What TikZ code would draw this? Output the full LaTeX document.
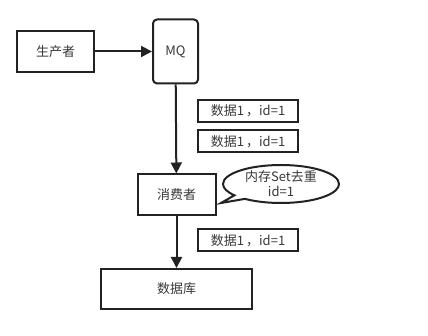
\documentclass[tikz,border=0pt]{standalone}
\usepackage{fontspec}
\setmainfont{Noto Sans CJK SC}
\usetikzlibrary{arrows.meta,shapes.callouts}
\definecolor{ink}{HTML}{222222}
\begin{document}
\begin{tikzpicture}[x=1pt,y=-1pt,
  box/.style={draw=ink,line width=2pt,inner sep=0pt,font=\fontsize{13}{15}\selectfont,text=ink!90},
  lbl/.style={draw=ink,line width=2pt,inner sep=0pt,minimum width=100pt,minimum height=22pt,font=\fontsize{13}{15}\selectfont,text=ink!90},
  arr/.style={draw=ink,line width=2pt,-{Triangle[length=11pt,width=11pt]}}]
\useasboundingbox (0,0) rectangle (428,336);
\node[box,minimum width=77pt,minimum height=41pt] (prod) at (55.5,51.5) {生产者};
\node[box,rounded corners=4pt,minimum width=45pt,minimum height=64pt] (mq) at (175.5,51.5) {MQ};
\node[box,minimum width=78pt,minimum height=41pt] (cons) at (176.5,195) {消费者};
\node[box,minimum width=151pt,minimum height=40pt] (db) at (176.5,289) {数据库};
\node[lbl] (l1) at (248,111) {数据1\,，id=1};
\node[lbl] (l2) at (248,141.5) {数据1\,，id=1};
\node[lbl] (l3) at (248,240.5) {数据1\,，id=1};
\node[ellipse callout,draw=ink,line width=2pt,minimum width=116pt,minimum height=38pt,inner sep=0pt,
  callout absolute pointer={(221,203)},align=center,font=\fontsize{13}{15}\selectfont,text=ink!90] (mem) at (281,184) {内存Set去重\\id=1};
\draw[arr] (prod) -- (mq);
\draw[arr] (mq) -- (cons);
\draw[arr] (cons) -- (db);
\end{tikzpicture}
\end{document}
